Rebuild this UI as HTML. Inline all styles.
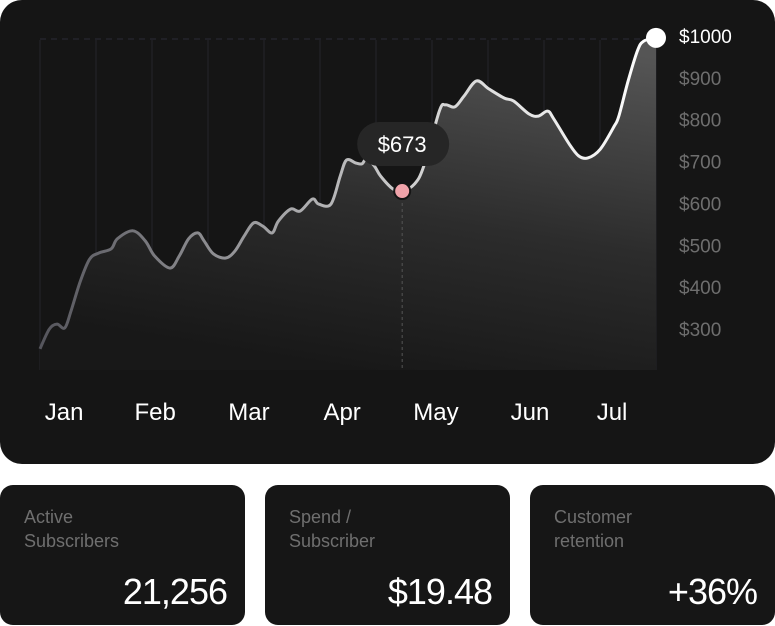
<!DOCTYPE html>
<html><head><meta charset="utf-8"><style>
html,body{margin:0;padding:0;background:#fff;width:775px;height:626px;overflow:hidden;font-family:"Liberation Sans",sans-serif}
#main{position:absolute;left:0;top:0;width:775px;height:464px;background:#151515;border-radius:22px;overflow:hidden}
.card{position:absolute;top:485px;width:245px;height:140px;background:#161616;border-radius:13px}
.lbl{position:absolute;left:24px;top:20px;color:#6f6f6f;font-size:18px;line-height:24px}
.val{position:absolute;right:18px;bottom:12px;color:#fff;font-size:36px;letter-spacing:-1px}
</style></head><body>
<div id="main">
<svg id="chart" width="775" height="464"></svg>
</div>
<div class="card" style="left:0"><div class="lbl">Active<br>Subscribers</div><div class="val">21,256</div></div>
<div class="card" style="left:265px"><div class="lbl">Spend /<br>Subscriber</div><div class="val">$19.48</div></div>
<div class="card" style="left:530px"><div class="lbl">Customer<br>retention</div><div class="val">+36%</div></div>
<script>
const days=[0,3,5.5,8,10,13,16,19,23,25,30,34,37,42,45,48,51,53,56,60,63,66,69,72,75,77,81,84,88,90,94,97,99,102,104,105.5,108,110,114,117,121,124,129,131,134,137,141,145,150,153,158,161,164,166,171,174,177,181,185.5,187,190,193,195,199];
const values=[255,302,314,305,345,416,469,484,494,518,537,513,477,448,477,518,532,513,482,472,489,525,556,548,532,560,589,584,613,601,601,668,706,699,697,709,692,668,637,632,649,692,823,838,833,859,895,876,854,847,816,811,823,804,744,716,711,732,787,811,895,967,990,998];
const months=["Jan","Feb","Mar","Apr","May","Jun","Jul"];
const monthDays=[7.8,37.2,67.5,97.6,127.9,158.3,184.8];
const yTicks=[1000,900,800,700,600,500,400,300];
const tipDay=117, tipLabel="$673";
const NS="http://www.w3.org/2000/svg";
const svgEl=document.getElementById('chart');
const X0=40,X1=656,DMAX=199;
const xS=d=>X0+(d/DMAX)*(X1-X0);
const yS=v=>37+(1000-v)*0.4186;
function mk(t,a){const e=document.createElementNS(NS,t);for(const k in a)e.setAttribute(k,a[k]);svgEl.appendChild(e);return e;}
svgEl.innerHTML='<defs><linearGradient id="fg" x1="0.8" y1="0" x2="0.5" y2="1"><stop offset="0" stop-color="#555555"/><stop offset="0.55" stop-color="#2c2c2c"/><stop offset="1" stop-color="#181818"/></linearGradient><linearGradient id="lg" x1="0" y1="0" x2="1" y2="0"><stop offset="0" stop-color="#55555c"/><stop offset="0.6" stop-color="#cfcfcf"/><stop offset="1" stop-color="#ffffff"/></linearGradient></defs>';
for(let i=0;i<12;i++){const gl=mk('line',{x1:X0+i*56,x2:X0+i*56,y1:40,y2:370,stroke:'#25252c','stroke-width':1});

}
const topGuide=mk('line',{x1:X0,x2:X1,y1:39,y2:39,stroke:'#2c2c36','stroke-dasharray':'6 5'});


const pts=days.map((d,i)=>[xS(d),yS(values[i])]);
let pd='M'+pts[0][0]+','+pts[0][1];
for(let i=0;i<pts.length-1;i++){const p0=pts[i-1]||pts[i],p1=pts[i],p2=pts[i+1],p3=pts[i+2]||p2;
pd+=` C${p1[0]+(p2[0]-p0[0])/6},${p1[1]+(p2[1]-p0[1])/6} ${p2[0]-(p3[0]-p1[0])/6},${p2[1]-(p3[1]-p1[1])/6} ${p2[0]},${p2[1]}`;}
const areaEl=mk('path',{d:pd+` L${X1},370 L${X0},370 Z`,fill:'url(#fg)'});


const lineEl=mk('path',{d:pd,fill:'none',stroke:'url(#lg)','stroke-width':3,'stroke-linejoin':'round'});


const ti=days.indexOf(tipDay);const tx=xS(tipDay),ty=yS(values[ti]);
const vl=mk('line',{x1:tx,x2:tx,y1:ty,y2:370,stroke:'#555','stroke-dasharray':'3 3'});


const pill=mk('rect',{x:tx-45,y:ty-69,width:92,height:44,rx:22,fill:'#262626'});


const tt=mk('text',{x:tx,y:ty-39,fill:'#fff','font-size':22,'text-anchor':'middle'});tt.textContent=tipLabel;


const dot=mk('circle',{cx:tx,cy:ty,r:8,fill:'#f0a3aa',stroke:'#151515','stroke-width':2});


const lastPt=pts[pts.length-1];
const ed=mk('circle',{cx:lastPt[0],cy:lastPt[1],r:10,fill:'#fff'});


yTicks.forEach((v,i)=>{const t=mk('text',{x:679,y:yS(v)+6,fill:i==0?'#fff':'#6e6e6e','font-size':19});t.textContent='$'+v;

});
months.forEach((m,i)=>{const t=mk('text',{x:xS(monthDays[i]),y:420,fill:'#fff','font-size':24,'text-anchor':'middle'});t.textContent=m;

});
</script>
</body></html>
